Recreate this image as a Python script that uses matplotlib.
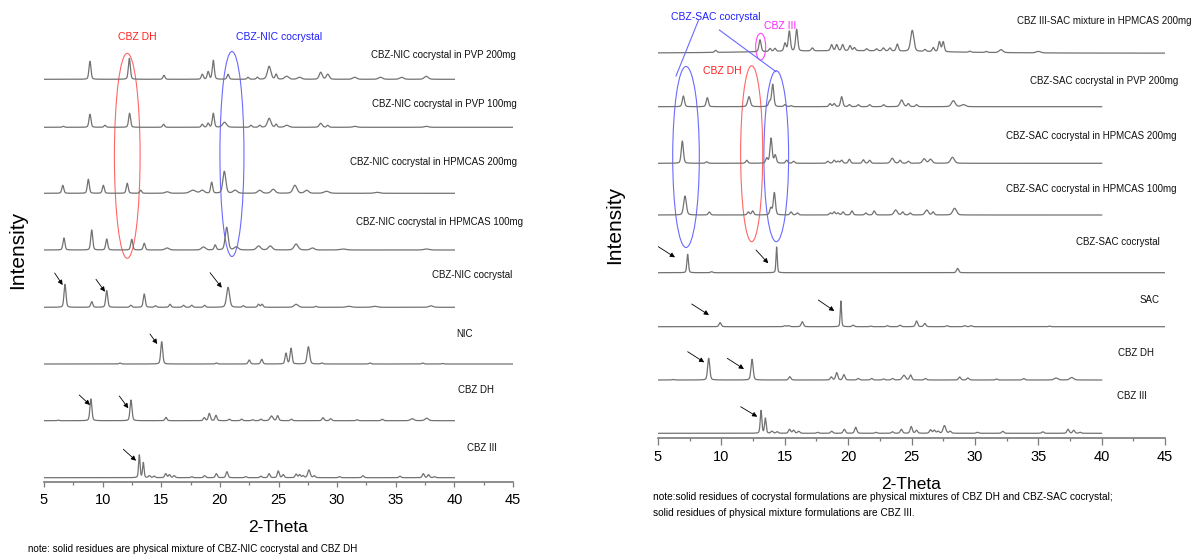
import numpy as np
import matplotlib
matplotlib.use("Agg")
import matplotlib.pyplot as plt
from matplotlib.patches import Ellipse
from matplotlib.ticker import MultipleLocator

# ---------------------------------------------------------------------------
# Powder XRD patterns: each reflection is (2-theta, intensity[, fwhm])
# ---------------------------------------------------------------------------
nic_pvp200 = [(8.92, 18), (12.28, 21), (15.23, 4), (18.5, 5), (19.0, 7.5), (19.44, 19),
              (20.7, 5), (22.4, 2), (23.2, 2), (24.2, 13, 0.35), (24.8, 5), (25.7, 3, 0.4),
              (26.8, 2, 0.4), (28.6, 7, 0.3), (29.2, 5, 0.3), (31.5, 2, 0.4), (33.7, 2, 0.4),
              (35.5, 2, 0.4), (37.6, 3, 0.4)]
nic_pvp100 = [(6.65, 1), (8.92, 13), (10.2, 2), (12.3, 14), (15.2, 3), (18.5, 3), (19.0, 4),
              (19.44, 14), (20.4, 5, 0.4), (22.65, 2), (23.4, 2), (24.2, 9, 0.35), (24.8, 3),
              (25.7, 2, 0.4), (28.6, 4, 0.3), (29.2, 2), (31.5, 1, 0.4), (37.6, 1, 0.4)]
nic_hpmcas200 = [(6.6, 8), (8.78, 14), (10.06, 8), (12.1, 10), (13.25, 3), (15.5, 1.5, 0.4),
                 (17.7, 3, 0.6), (18.5, 3, 0.4), (19.3, 11), (20.38, 22, 0.3), (21.3, 3, 0.4),
                 (23.4, 3, 0.4), (24.55, 4, 0.4), (26.4, 8, 0.4), (27.4, 3, 0.4), (29.1, 2, 0.5),
                 (33.4, 1, 0.5)]
nic_hpmcas100 = [(6.7, 12), (9.07, 20), (10.35, 11), (12.48, 10.7), (13.55, 6.7), (15.5, 2, 0.4),
                 (18.6, 3, 0.4), (19.6, 5), (20.58, 22.7, 0.3), (21.4, 3, 0.4), (23.3, 4, 0.4),
                 (24.3, 4, 0.4), (26.5, 6, 0.4), (27.9, 2, 0.4), (30.5, 1, 0.6), (37.6, 1, 0.5)]
nic_cocrystal = [(6.79, 23), (9.07, 5.7), (10.35, 16.7), (12.4, 2), (13.55, 13.3), (14.5, 1.5),
                 (15.75, 3), (16.9, 2), (17.6, 2), (18.7, 2), (20.7, 20, 0.3), (22.0, 1.5),
                 (23.3, 3), (23.6, 3), (26.5, 3, 0.4), (28.2, 1), (31.0, 1, 0.5), (33.2, 1, 0.5),
                 (38.0, 1.5, 0.4)]
nic_pure = [(11.48, 1), (15.04, 22.3), (19.7, 1), (22.5, 4), (23.57, 4.7), (25.64, 10.7),
            (26.07, 15.7), (27.55, 17.3, 0.25), (28.7, 1), (32.8, 1), (37.3, 1), (39.0, 0.5)]
cbz_dh = [(6.22, 0.5), (9.0, 21.7), (12.42, 20.7), (15.4, 3.3), (18.67, 3), (19.1, 7.3),
          (19.67, 5.3), (20.8, 1.5), (21.86, 1.5), (22.8, 1), (23.5, 1.5), (24.4, 4.7, 0.3),
          (24.93, 5), (26.1, 1.5), (28.8, 3), (29.45, 2), (31.7, 1), (33.85, 1.5),
          (36.4, 2, 0.35), (37.64, 2.5, 0.35)]
cbz_iii = [(13.13, 22.7, 0.15), (13.47, 15, 0.15), (13.99, 2), (14.4, 1.5), (15.38, 4), (15.7, 3),
           (16.1, 2), (17.6, 1), (18.7, 2), (19.7, 4), (20.6, 6), (22.2, 1), (23.5, 1.5),
           (24.2, 4), (24.98, 6.7), (25.4, 3), (26.5, 3.5), (26.8, 3), (27.1, 2),
           (27.6, 7.7, 0.25), (28.05, 2), (30.2, 1), (32.2, 2), (35.36, 1.5), (37.35, 4),
           (37.8, 3), (38.3, 1)]

sac_iii_hpmcas200 = [(9.55, 2), (13.05, 12), (13.84, 3), (14.23, 3), (15.02, 8), (15.36, 20),
                     (15.94, 21.7), (17.17, 3), (18.7, 6), (19.1, 6), (19.57, 6), (20.15, 5),
                     (20.5, 3), (21.46, 2), (22.24, 2), (22.78, 3), (23.3, 3), (23.88, 7),
                     (25.06, 21, 0.3), (26.06, 2), (26.72, 4), (27.2, 10), (27.5, 10),
                     (29.6, 1), (30.9, 1), (32.06, 3, 0.35), (35.0, 1.5, 0.4), (20.0, 2.5, 16.0)]
sac_pvp200 = [(7.0, 10.7), (8.89, 9), (12.18, 10, 0.25), (13.8, 5), (14.05, 22.3), (15.02, 2),
              (15.5, 1), (18.57, 3), (18.9, 3), (19.49, 10), (20.1, 2), (20.8, 2), (21.7, 2),
              (22.8, 2), (24.22, 6.7, 0.3), (24.75, 3), (25.4, 2), (28.3, 6, 0.35), (29.1, 2, 0.4)]
sac_hpmcas200 = [(6.92, 22.3), (8.84, 1.5), (12.0, 3), (13.58, 5), (13.92, 25), (14.25, 8),
                 (15.15, 3), (15.7, 2), (18.4, 2), (18.9, 3), (19.2, 2), (19.49, 3), (20.1, 4),
                 (21.2, 3.5), (21.7, 3), (23.48, 5, 0.3), (24.1, 3), (24.75, 2), (26.0, 4.5, 0.3),
                 (26.5, 4, 0.3), (28.23, 6, 0.35)]
sac_hpmcas100 = [(7.13, 19, 0.25), (9.05, 3), (12.13, 3), (12.47, 4), (13.9, 7), (14.18, 22.3),
                 (15.5, 3), (16.0, 2), (18.6, 2), (18.9, 3), (19.2, 2), (19.6, 3), (20.3, 4),
                 (21.4, 2), (22.06, 4), (23.75, 5, 0.3), (24.3, 3), (24.9, 2), (26.2, 5, 0.3),
                 (26.7, 3), (28.4, 6.7, 0.35)]
sac_cocrystal = [(7.34, 18.3, 0.15), (9.23, 1), (14.36, 25.7, 0.12), (28.64, 4.3)]
sac_pure = [(9.9, 4), (15.0, 1), (15.3, 1), (16.38, 5), (19.43, 25.7, 0.12), (20.4, 1.5),
            (21.8, 0.5), (23.1, 1), (24.1, 1.5), (25.4, 5.7), (26.05, 3.3), (27.8, 1),
            (29.2, 1), (29.7, 1), (35.9, 0.5)]

# Sample names, stacking offsets and scan end (2-theta) for each panel
nic_names = ["CBZ-NIC cocrystal in PVP 200mg", "CBZ-NIC cocrystal in PVP 100mg",
             "CBZ-NIC cocrystal in HPMCAS 200mg", "CBZ-NIC cocrystal in HPMCAS 100mg",
             "CBZ-NIC cocrystal", "NIC", "CBZ DH", "CBZ III"]
nic_patterns = [nic_pvp200, nic_pvp100, nic_hpmcas200, nic_hpmcas100,
                nic_cocrystal, nic_pure, cbz_dh, cbz_iii]
nic_offsets = [402.7, 354.7, 288.7, 232.0, 174.7, 118.0, 61.3, 4.3]
nic_scan_end = [40, 45, 40, 40, 40, 45, 40, 40]

sac_names = ["CBZ III-SAC mixture in HPMCAS 200mg", "CBZ-SAC cocrystal in PVP 200mg",
             "CBZ-SAC cocrystal in HPMCAS 200mg", "CBZ-SAC cocrystal in HPMCAS 100mg",
             "CBZ-SAC cocrystal", "SAC", "CBZ DH", "CBZ III"]
sac_patterns = [sac_iii_hpmcas200, sac_pvp200, sac_hpmcas200, sac_hpmcas100,
                sac_cocrystal, sac_pure, cbz_dh, cbz_iii]
sac_offsets = [384.5, 331.0, 274.4, 222.7, 165.0, 111.0, 57.7, 4.4]
sac_scan_end = [45, 40, 40, 40, 45, 45, 40, 40]

# Text placement (2-theta centre, height) for the sample names
nic_name_pos = [(39.07, 427), (39.15, 378), (38.26, 320.3), (38.7, 260.3),
                (41.5, 207), (40.9, 148), (41.88, 92), (42.38, 33.7)]
sac_name_pos = [(40.17, 417), (40.2, 356.7), (39.2, 302), (39.2, 248.7),
                (41.3, 196), (43.75, 137.7), (42.68, 84.4), (42.4, 41.7)]

# Arrows marking characteristic reflections: tip (2-theta, height), tail offset in pixels
nic_arrows = [(6.59, 197, -8, 12), (10.2, 190.3, -9, 12.4), (20.16, 194.3, -11.7, 15),
              (14.66, 138, -7.3, 10), (8.92, 77, -10.7, 10), (12.19, 73.7, -9, 12.3),
              (12.85, 21.3, -12.7, 11.4)]
sac_arrows = [(6.34, 180.4, -16.7, 10.6), (13.7, 174.4, -12.3, 13.3), (9.02, 122.7, -17.3, 11),
              (18.91, 126.7, -16, 11), (8.65, 75.4, -16.6, 10.6), (11.78, 68.7, -16.7, 10.7),
              (12.83, 21, -16.6, 10)]

SANS = ["Liberation Sans", "DejaVu Sans"]
LINE = "#727272"
NAME_SIZE = 7.0
TAG_SIZE = 7.5


def profile(tt, peaks, default_fwhm=0.2, eta=0.3):
    y = np.zeros_like(tt)
    for p in peaks:
        pos, h = p[0], p[1]
        w = p[2] if len(p) > 2 else default_fwhm
        g = np.exp(-4 * np.log(2) * ((tt - pos) / w) ** 2)
        lor = 1.0 / (1.0 + 4 * ((tt - pos) / w) ** 2)
        y += h * ((1 - eta) * g + eta * lor)
    return y


def style_axis(ax, top, major_len, minor_len):
    ax.set_xlim(5, 45)
    ax.set_ylim(0, top)
    for s in ("left", "right", "top"):
        ax.spines[s].set_visible(False)
    ax.spines["bottom"].set_color("#7a7a7a")
    ax.spines["bottom"].set_linewidth(1.2)
    ax.xaxis.set_major_locator(MultipleLocator(5))
    ax.xaxis.set_minor_locator(MultipleLocator(2.5))
    ax.tick_params(axis="x", which="major", direction="out", length=major_len,
                   width=0.9, color="#7a7a7a", labelsize=10.5, pad=4)
    ax.tick_params(axis="x", which="minor", direction="out", length=minor_len,
                   width=0.9, color="#7a7a7a")
    for lab in ax.get_xticklabels():
        lab.set_fontfamily(SANS)
    ax.set_yticks([])
    ax.patch.set_alpha(0)


def draw_panel(ax, patterns, offsets, ends, names, name_pos, arrows):
    for peaks, off, end, name, (nx, ny) in zip(patterns, offsets, ends, names, name_pos):
        tt = np.linspace(5, end, 6000)
        ax.plot(tt, off + profile(tt, peaks), color=LINE, lw=0.9)
        ax.text(nx, ny, name, ha="center", va="center", fontsize=NAME_SIZE,
                family=SANS, color="#111111")
    for x, y, dx, dy in arrows:
        ax.annotate("", xy=(x, y), xytext=(dx, dy), textcoords="offset pixels",
                    arrowprops=dict(arrowstyle="-|>", color="black", lw=0.6,
                                    mutation_scale=7, shrinkA=0, shrinkB=0))


W, H = 1199, 560
fig = plt.figure(figsize=(W / 100, H / 100), dpi=100)

# left panel: CBZ-NIC system
axL = fig.add_axes([44 / W, 1 - 482 / H, 469 / W, 482 / H])
style_axis(axL, 482, 3.6, 1.8)
draw_panel(axL, nic_patterns, nic_offsets, nic_scan_end, nic_names, nic_name_pos, nic_arrows)
axL.add_patch(Ellipse((12.1, 326.2), 2.19, 205, fill=False, ec="#ff6666", lw=0.8))
axL.add_patch(Ellipse((21.03, 328), 2.05, 205, fill=False, ec="#6a6aff", lw=0.8))
axL.text(12.93, 445, "CBZ DH", color="#ff2020", ha="center", va="center",
         fontsize=TAG_SIZE, family=SANS)
axL.text(25.04, 445, "CBZ-NIC cocrystal", color="#2020ff", ha="center", va="center",
         fontsize=TAG_SIZE, family=SANS)

# right panel: CBZ-SAC system
axR = fig.add_axes([658 / W, 1 - 437.7 / H, 507 / W, 437.7 / H])
style_axis(axR, 437.7, 5.0, 2.4)
draw_panel(axR, sac_patterns, sac_offsets, sac_scan_end, sac_names, sac_name_pos, sac_arrows)
axR.add_patch(Ellipse((7.21, 280.7), 2.1, 181, fill=False, ec="#6a6aff", lw=0.8))
axR.add_patch(Ellipse((12.39, 284), 1.74, 176, fill=False, ec="#ff6666", lw=0.8))
axR.add_patch(Ellipse((14.33, 281.5), 1.95, 171, fill=False, ec="#6a6aff", lw=0.8))
axR.add_patch(Ellipse((13.1, 391), 0.79, 26.7, fill=False, ec="#ff44ff", lw=0.8))
axR.plot([8.18, 6.42], [417, 361.7], color="#6a6aff", lw=0.8)
axR.plot([9.84, 14.31], [407.7, 366], color="#6a6aff", lw=0.8)
axR.text(9.52, 421, "CBZ-SAC cocrystal", color="#2020ff", ha="center", va="center",
         fontsize=TAG_SIZE, family=SANS)
axR.text(14.66, 411.7, "CBZ III", color="#ff20ff", ha="center", va="center",
         fontsize=TAG_SIZE, family=SANS)
axR.text(10.07, 366.7, "CBZ DH", color="#ff2020", ha="center", va="center",
         fontsize=TAG_SIZE, family=SANS)

# axis titles and notes
fig.text(18 / W, 1 - 250 / H, "Intensity", rotation=90, ha="center", va="center",
         fontsize=15, family=SANS)
fig.text(615 / W, 1 - 225 / H, "Intensity", rotation=90, ha="center", va="center",
         fontsize=15, family=SANS)
fig.text(278.5 / W, 1 - 527 / H, "2-Theta", ha="center", va="center", fontsize=12.5,
         family=SANS)
fig.text(911.5 / W, 1 - 484.5 / H, "2-Theta", ha="center", va="center", fontsize=12.5,
         family=SANS)
fig.text(28 / W, 1 - 549 / H,
         "note: solid residues are physical mixture of CBZ-NIC cocrystal and CBZ DH",
         ha="left", va="center", fontsize=7.1, family=SANS)
fig.text(653 / W, 1 - 497.5 / H,
         "note:solid residues of cocrystal formulations are physical mixtures of CBZ DH "
         "and CBZ-SAC cocrystal;", ha="left", va="center", fontsize=7.3, family=SANS)
fig.text(653 / W, 1 - 513.5 / H,
         "solid residues of physical mixture formulations are CBZ III.",
         ha="left", va="center", fontsize=7.3, family=SANS)

fig.savefig("out.png", dpi=100, facecolor="white")
